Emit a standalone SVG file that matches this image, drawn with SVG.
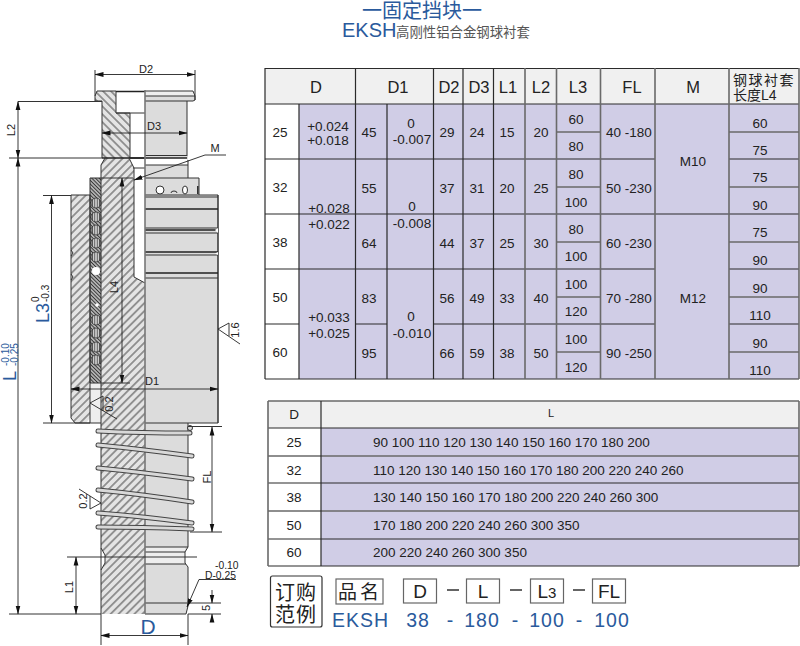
<svg xmlns="http://www.w3.org/2000/svg" width="800" height="646" viewBox="0 0 800 646">
<style>
text{font-family:"Liberation Sans","Noto Sans CJK SC",sans-serif;fill:#222}
.c{text-anchor:middle}
.t{font-size:13.5px}
.h{font-size:16.5px;text-anchor:middle}
.b{fill:#2a5a9c}
.d{font-size:11px;text-anchor:middle}
.tl{stroke:#2a2a2a;stroke-width:1.2;fill:none}
.tg{stroke:#6a6a6a;stroke-width:1.6;fill:none}
.o{stroke:#333;stroke-width:1;fill:none}
.thick{stroke:#222;stroke-width:1.5;fill:none}
.g{fill:#dcdcdc}
.dim{stroke:#222;stroke-width:.9;fill:none}
.ext{stroke:#333;stroke-width:1;fill:none}
.boxl{fill:#fff;stroke:#666;stroke-width:1.2}
.sp1{stroke:#444;stroke-width:5;fill:none;stroke-linecap:round}
.sp2{stroke:#d8d8d8;stroke-width:3;fill:none;stroke-linecap:round}
</style>
<defs>
<pattern id="ha" patternUnits="userSpaceOnUse" width="5.6" height="5.6" patternTransform="rotate(45)"><rect width="5.6" height="5.6" fill="#e4e4e4"/><line x1="2.8" y1="0" x2="2.8" y2="5.6" stroke="#333" stroke-width=".9"/></pattern>
<pattern id="hb" patternUnits="userSpaceOnUse" width="5.6" height="5.6" patternTransform="rotate(-45)"><rect width="5.6" height="5.6" fill="#e4e4e4"/><line x1="2.8" y1="0" x2="2.8" y2="5.6" stroke="#333" stroke-width=".9"/></pattern>
<pattern id="hc" patternUnits="userSpaceOnUse" width="2.6" height="2.6" patternTransform="rotate(-45)"><rect width="2.6" height="2.6" fill="#bbb"/><line x1="1.3" y1="0" x2="1.3" y2="2.6" stroke="#333" stroke-width="1"/></pattern>
<pattern id="hd" patternUnits="userSpaceOnUse" width="2.4" height="2.4"><rect width="2.4" height="2.4" fill="#ccc"/><line x1="1.2" y1="0" x2="1.2" y2="2.4" stroke="#444" stroke-width=".8"/></pattern>
<marker id="ar" markerUnits="userSpaceOnUse" markerWidth="9" markerHeight="6" refX="8.5" refY="3" orient="auto-start-reverse"><path d="M0 .6L9 3L0 5.4Z" fill="#111"/></marker>
</defs>

<g id="title">
<text x="422" y="18" class="c b" font-size="20">一固定挡块一</text>
<text x="342" y="37" class="b" font-size="20">EKSH</text>
<text x="396" y="37" font-size="13.4" style="fill:#555">高刚性铝合金钢球衬套</text>
</g>

<g id="drawing">
<g id="section">
<path d="M97 91H116V113H130V158H102V101H95V96Z" fill="url(#hb)"/>
<path d="M101 178V165L105 158H129L134 168V277L145 283V614H101V570L105 563V555L101 548Z" fill="url(#ha)"/>
<path d="M71 195H90V418L86 423H75L71 418Z" fill="url(#ha)"/>
<rect x="90" y="383" width="11" height="40" fill="#eee"/>
<rect x="90" y="178" width="11" height="205" fill="url(#hc)"/>
<g fill="url(#hd)" stroke="#333" stroke-width=".8">
<circle cx="96" cy="203" r="5"/><circle cx="96" cy="217" r="5"/><circle cx="96" cy="230" r="5"/><circle cx="96" cy="243" r="5"/><circle cx="96" cy="257" r="5"/>
<circle cx="96" cy="320" r="5"/><circle cx="96" cy="333" r="5"/><circle cx="96" cy="347" r="5"/><circle cx="96" cy="360" r="5"/>
</g>
<circle cx="96" cy="271" r="4" fill="#fff"/><circle cx="97" cy="305" r="1.8" fill="#fff"/>
<path class="o" d="M97 91H116V113H130V158M102 158V101H95V96L97 91M116 113H145"/>
<path class="thick" d="M116 91.500H145M102 158H145"/>
<path class="o" d="M101 178V165L105 158M129 158L134 168V277L145 283M71 195V418L75 423H90V195H71M90 178V383M101 178V614M90 178H133M90 383H130M71 250L73 253L71 256M71 274L73 277L71 280"/>
<path class="o" d="M133 168H145"/>
<path class="o" d="M101 548L105 555V563L101 570"/>
</g>
<g id="outside">
<path class="g" d="M145 96H195V100L193 101H187V156H188V178H199V195H218V423H188V547L185 552V563L188 567V606L186 614H145Z"/>
<rect x="145" y="91" width="48" height="5" fill="#eee"/>
<path fill="#fff" d="M145 158H187L188 165H145Z"/>
<path class="o" d="M145 91H193L195 96V100L193 101H145M145 96H195M187 101V156M145 155.500H187"/>
<path class="thick" d="M130 158H187"/>
<path class="o" d="M188 160V178M145 165H188M145 178H199V195M145 195H218V423H188M145 197H218M218 195V423"/>
<path class="thick" d="M145 209H218M145 230H218M145 252H218M145 273H218"/>
<path class="o" d="M145 228H218M145 233H218M145 255H218M145 278H218M145 423H188"/>
<path fill="#fff" d="M218 228L215 230L218 233ZM218 252L215 253.500L218 255Z"/>
<circle cx="160" cy="190" r="4" fill="#fff" stroke="#333"/>
<path class="o" d="M171 193A3 2 0 0 1 177 193"/>
<ellipse cx="185" cy="190" rx="2.500" ry="4" fill="#fff" stroke="#333"/>
<rect x="197" y="186" width="1.600" height="8" fill="#333"/>
<rect x="145" y="547" width="40" height="17" fill="#eee"/>
<path class="o" d="M188 423V547L185 552V563L188 567V606L186 614H145M145 547H188M145 552H185M145 564H186M145 603H187"/>
<path d="M145 90V614" stroke="#777" stroke-width="1.600"/>
</g>
<g id="spring">
<path class="sp1" d="M98 431Q140 433 190 433"/><path class="sp2" d="M98 431Q140 433 190 433"/>
<circle cx="190" cy="428" r="2.500" fill="#ddd" stroke="#333"/>
<path class="sp1" d="M98 445Q140 449 192 456"/><path class="sp2" d="M98 445Q140 449 192 456"/>
<path class="sp1" d="M98 468Q140 472 192 479"/><path class="sp2" d="M98 468Q140 472 192 479"/>
<path class="sp1" d="M98 490Q140 494 192 502"/><path class="sp2" d="M98 490Q140 494 192 502"/>
<path class="sp1" d="M98 513Q140 516 192 523"/><path class="sp2" d="M98 513Q140 516 192 523"/>
<path class="sp1" d="M98 527Q140 527 192 529"/><path class="sp2" d="M98 527Q140 527 192 529"/>
</g>
<g id="dimensions">
<path class="ext" d="M95 70V96M195 70V100M18 101.500H102M9 158H102M43 195.500H71M43 423H101M188 426.500H222M190 532H222M67 557H101M101 557H197M9 614H101M188 614H221M188 603H221M101 614V645M188 614V645"/>
<path class="dim" marker-start="url(#ar)" marker-end="url(#ar)" d="M95 74.500H195"/>
<path class="dim" marker-start="url(#ar)" marker-end="url(#ar)" d="M18 101.500V158"/>
<path class="dim" marker-start="url(#ar)" marker-end="url(#ar)" d="M18 158V614"/>
<path class="dim" marker-start="url(#ar)" marker-end="url(#ar)" d="M51.500 195.500V423"/>
<path class="dim" marker-start="url(#ar)" marker-end="url(#ar)" d="M122 178V383"/>
<path class="dim" marker-start="url(#ar)" marker-end="url(#ar)" d="M102 133H187"/>
<path class="dim" marker-start="url(#ar)" marker-end="url(#ar)" d="M71 389H218"/>
<path class="dim" marker-start="url(#ar)" marker-end="url(#ar)" d="M212 427V532"/>
<path class="dim" marker-start="url(#ar)" marker-end="url(#ar)" d="M76 557V614"/>
<path class="dim" marker-start="url(#ar)" marker-end="url(#ar)" d="M101 635.500H188"/>
<path class="dim" marker-end="url(#ar)" d="M212 590V603"/>
<path class="dim" marker-end="url(#ar)" d="M212 622V614"/>
<path class="dim" marker-end="url(#ar)" d="M226 155H205L134 180"/>
<path class="dim" marker-end="url(#ar)" d="M236 579.500H199L187 607"/>
<path class="dim" d="M218 329L229 323V336M218 329L240 344M90 403L103 396V411M90 403L117 419M101 503L90 509V496M101 503L79 489"/>
<text x="146" y="73" class="d">D2</text>
<text x="154" y="130" class="d">D3</text>
<text x="152" y="385" class="d">D1</text>
<text x="215" y="152" class="d">M</text>
<text class="d" transform="translate(15 130) rotate(-90)">L2</text>
<text class="d" transform="translate(118 287) rotate(-90)">L4</text>
<text class="d" transform="translate(210.500 477) rotate(-90)">FL</text>
<text class="d" transform="translate(73 587) rotate(-90)">L1</text>
<text class="d" transform="translate(210 608) rotate(-90)">5</text>
<text class="d" transform="translate(239 330) rotate(-90)">1.6</text>
<text class="d" transform="translate(113 404) rotate(-90)">0.2</text>
<text class="d" transform="translate(87 501) rotate(-90)">0.2</text>
<text x="205" y="578.500" font-size="10.300">D-0.25</text>
<text x="215" y="569" font-size="10.300">-0.10</text>
<text class="b" font-size="18" transform="translate(16 381) rotate(-90)">L</text>
<text class="b" font-size="10" transform="translate(8.500 366) rotate(-90)">-0.10</text>
<text class="b" font-size="10" transform="translate(18 366) rotate(-90)">-0.25</text>
<text class="b" font-size="18" transform="translate(49 323) rotate(-90)">L3</text>
<text font-size="10" transform="translate(38.500 302) rotate(-90)">0</text>
<text font-size="10" transform="translate(48.500 302) rotate(-90)">-0.3</text>
<text x="148" y="634" class="c b" font-size="21">D</text>
</g>
</g>

<g id="table1">
<rect x="265" y="68" width="534" height="36" fill="#f0f0f0"/>
<rect x="265" y="104" width="34" height="275" fill="#fff"/>
<rect x="299" y="104" width="500" height="275" fill="#d0cde6"/>
<path class="tl" d="M265 68.500H799M265 104H799M265 159H655M729 159H799M265 214H799M265 269H655M729 269H799M265 324H299M355 324H387M433 324H655M729 324H799M265 379H799"/>
<path class="tg" d="M556 132H600M556 187H600M556 242H600M556 297H600M556 352H600M729 132H799M729 187H799M729 242H799M729 297H799M729 352H799"/>
<path class="tl" d="M265 68V379M299 104V379M355.500 68V379M387 104V379M433.500 68V379M463 68V379M493.500 68V379"/>
<path class="tg" d="M525 68V379M556.500 68V379M600.500 68V379M655 68V379M729 68V379M799 68V379"/>
<g class="h">
<text x="316" y="93" class="h">D</text><text x="398" y="93" class="h">D1</text><text x="449" y="93" class="h">D2</text><text x="479" y="93" class="h">D3</text><text x="508" y="93" class="h">L1</text><text x="541" y="93" class="h">L2</text><text x="578" y="93" class="h">L3</text><text x="632" y="93" class="h">FL</text><text x="693" y="93" class="h">M</text>
</g>
<text x="733" y="85" font-size="14" letter-spacing="1.500">钢球衬套</text>
<text x="733" y="100" font-size="14">长度L4</text>
<g id="t1-body">
<text x="280" y="137" class="t c">25</text><text x="280" y="192" class="t c">32</text><text x="280" y="247" class="t c">38</text><text x="280" y="302" class="t c">50</text><text x="280" y="357" class="t c">60</text>
<text x="328" y="131" class="t c">+0.024</text><text x="328" y="145" class="t c">+0.018</text>
<text x="329" y="213" class="t c">+0.028</text><text x="329" y="229" class="t c">+0.022</text>
<text x="329" y="322" class="t c">+0.033</text><text x="329" y="338" class="t c">+0.025</text>
<text x="369" y="137" class="t c">45</text><text x="369" y="193" class="t c">55</text><text x="369" y="248" class="t c">64</text><text x="369" y="303" class="t c">83</text><text x="369" y="358" class="t c">95</text>
<text x="411" y="128" class="t c">0</text><text x="412" y="144" class="t c">-0.007</text>
<text x="412" y="211" class="t c">0</text><text x="412" y="228" class="t c">-0.008</text>
<text x="411" y="321" class="t c">0</text><text x="412" y="338" class="t c">-0.010</text>
<text x="447" y="137" class="t c">29</text><text x="447" y="193" class="t c">37</text><text x="447" y="248" class="t c">44</text><text x="447" y="303" class="t c">56</text><text x="447" y="358" class="t c">66</text>
<text x="477" y="137" class="t c">24</text><text x="477" y="193" class="t c">31</text><text x="477" y="248" class="t c">37</text><text x="477" y="303" class="t c">49</text><text x="477" y="358" class="t c">59</text>
<text x="507" y="137" class="t c">15</text><text x="507" y="193" class="t c">20</text><text x="507" y="248" class="t c">25</text><text x="507" y="303" class="t c">33</text><text x="507" y="358" class="t c">38</text>
<text x="541" y="137" class="t c">20</text><text x="541" y="193" class="t c">25</text><text x="541" y="248" class="t c">30</text><text x="541" y="303" class="t c">40</text><text x="541" y="358" class="t c">50</text>
<text x="576" y="124" class="t c">60</text><text x="576" y="151" class="t c">80</text><text x="576" y="179" class="t c">80</text><text x="576" y="207" class="t c">100</text><text x="576" y="234" class="t c">80</text><text x="576" y="261" class="t c">100</text><text x="576" y="289" class="t c">100</text><text x="576" y="316" class="t c">120</text><text x="576" y="344" class="t c">100</text><text x="576" y="372" class="t c">120</text>
<text x="629" y="137" class="t c">40 -180</text><text x="629" y="193" class="t c">50 -230</text><text x="629" y="248" class="t c">60 -230</text><text x="629" y="303" class="t c">70 -280</text><text x="629" y="358" class="t c">90 -250</text>
<text x="693" y="166" class="t c">M10</text><text x="693" y="303" class="t c">M12</text>
<text x="760" y="128" class="t c">60</text><text x="760" y="155" class="t c">75</text><text x="760" y="182" class="t c">75</text><text x="760" y="210" class="t c">90</text><text x="760" y="237" class="t c">75</text><text x="760" y="265" class="t c">90</text><text x="760" y="293" class="t c">90</text><text x="760" y="320" class="t c">110</text><text x="760" y="348" class="t c">90</text><text x="760" y="375" class="t c">110</text>
</g>
</g>

<g id="table2">
<rect x="268" y="401" width="531" height="27" fill="#f0f0f0"/>
<rect x="268" y="428" width="53" height="138" fill="#fff"/>
<rect x="321" y="428" width="478" height="138" fill="#d0cde6"/>
<path class="tg" d="M268 401H799M268 456H799M268 511H799"/>
<path class="tl" d="M268 428H799M268 483H799M268 539H799M268 566H799"/>
<path class="tg" d="M268 401V566M799 401V566"/>
<path class="tl" d="M321 401V566"/>
<text x="294" y="419" class="t c">D</text>
<text x="551" y="417" class="c" font-size="11">L</text>
<text x="294" y="447" class="t c">25</text><text x="294" y="475" class="t c">32</text><text x="294" y="502" class="t c">38</text><text x="294" y="530" class="t c">50</text><text x="294" y="557" class="t c">60</text>
<text x="373" y="447" class="t">90 100 110 120 130 140 150 160 170 180 200</text>
<text x="373" y="475" class="t">110 120 130 140 150 160 170 180 200 220 240 260</text>
<text x="373" y="502" class="t">130 140 150 160 170 180 200 220 240 260 300</text>
<text x="373" y="530" class="t">170 180 200 220 240 260 300 350</text>
<text x="373" y="557" class="t">200 220 240 260 300 350</text>
</g>

<g id="order">
<rect x="270.500" y="576" width="51.500" height="51" rx="2" fill="#fff" stroke="#333" stroke-width="1.200"/>
<text x="296" y="600" class="c" font-size="20" letter-spacing="1">订购</text>
<text x="296" y="622" class="c" font-size="20" letter-spacing="1">范例</text>
<rect x="336" y="579" width="47" height="25" class="boxl"/>
<text x="360" y="599" class="c" font-size="19" letter-spacing="3">品名</text>
<rect x="403.500" y="579" width="33" height="24" class="boxl"/>
<text x="420" y="598" class="c" font-size="19">D</text>
<rect x="466.500" y="579" width="33" height="24" class="boxl"/>
<text x="483" y="598" class="c" font-size="19">L</text>
<rect x="530.500" y="579" width="33" height="24" class="boxl"/>
<text x="547" y="598" class="c"><tspan font-size="19">L</tspan><tspan font-size="15">3</tspan></text>
<rect x="592.500" y="579" width="33" height="24" class="boxl"/>
<text x="609" y="598" class="c" font-size="19">FL</text>
<path d="M447 590H459M510 590H522M573 590H585" stroke="#333" stroke-width="1.600"/>
<text x="332" y="627" class="b" font-size="19.500" letter-spacing="1">EKSH</text>
<text x="418" y="627" class="c b" font-size="19.500" letter-spacing="1">38</text>
<text x="450" y="627" class="c b" font-size="19.500">-</text>
<text x="482" y="627" class="c b" font-size="19.500" letter-spacing="1">180</text>
<text x="515" y="627" class="c b" font-size="19.500">-</text>
<text x="547" y="627" class="c b" font-size="19.500" letter-spacing="1">100</text>
<text x="579" y="627" class="c b" font-size="19.500">-</text>
<text x="612" y="627" class="c b" font-size="19.500" letter-spacing="1">100</text>
</g>
</svg>
